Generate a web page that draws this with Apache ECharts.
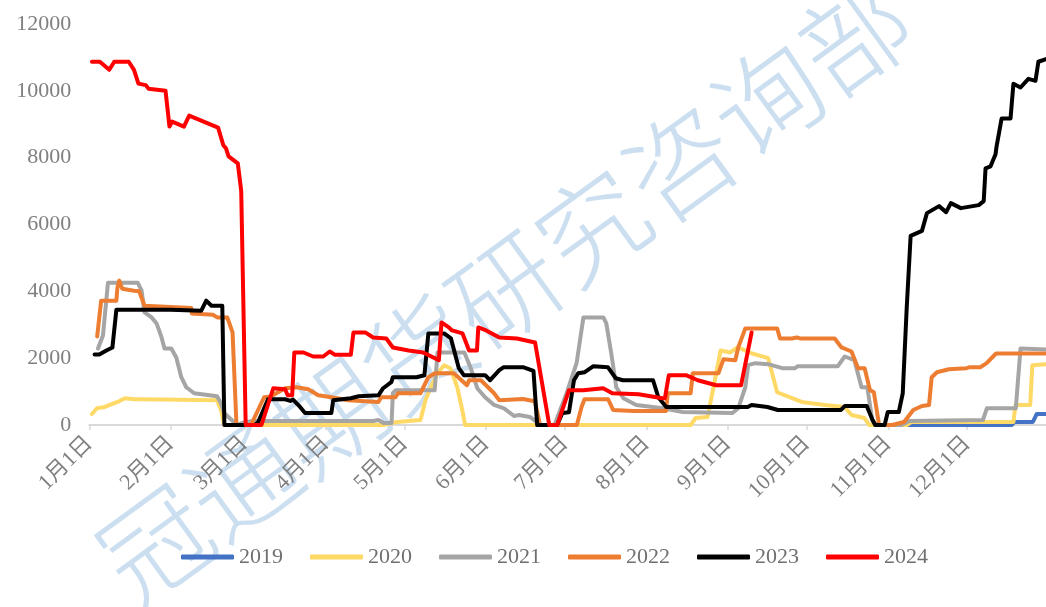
<!DOCTYPE html>
<html>
<head>
<meta charset="utf-8">
<script src="https://cdn.jsdelivr.net/npm/echarts@6/dist/echarts.min.js"></script>
<style>
html,body{margin:0;padding:0;background:#fff;}
#c{width:1046px;height:607px;}
</style>
</head>
<body>
<div id="c"></div>
<script>
// x positions are day-of-year indices (0 = 1月1日)
const monthStarts = [0, 31, 59, 90, 120, 151, 181, 212, 243, 273, 304, 334];
const monthLabels = ['1月1日','2月1日','3月1日','4月1日','5月1日','6月1日','7月1日','8月1日','9月1日','10月1日','11月1日','12月1日'];
const seriesNames = ['2019','2020','2021','2022','2023','2024'];

const data2019 = [[305,0],[351,0],[352,90],[359,90],[360.5,330],[364,330]];

const data2020 = [[1,330],[2.9,500],[5.9,540],[7.8,600],[10.8,690],[13.5,800],[17.3,770],[19.9,770],[48.6,740],[50.1,450],[51.3,0],
  [112,0],[116.2,80],[126,150],[127.9,740],[129.8,1100],[132.5,1550],[135,1790],[137.4,1700],[140,1130],[141.9,450],[143,0],
  [228.8,0],[230.7,210],[235.2,240],[237.5,1130],[240.2,2230],[243.9,2170],[246.6,2320],[249.6,2230],[252.2,2140],[258.3,2000],
  [261.7,980],[264.7,890],[271.1,690],[279.8,600],[287.4,540],[290,300],[294.9,210],[296.8,0],[311,0],[312.7,90],[351.6,90],
  [352.4,600],[358,600],[358.8,1790],[364,1820]];

const data2021 = [[3.3,2290],[5.2,2680],[7.1,4260],[18.4,4260],[19.9,4020],[21,3370],[23.7,3220],[25.6,3040],[27.5,2620],[28.6,2290],
  [31.2,2290],[33.1,2020],[35,1430],[36.9,1130],[39.9,950],[48.6,860],[50.1,650],[51.3,360],[55,90],[56.2,0],[58,60],[62,120],
  [108,120],[110,150],[112,60],[115,60],[115.5,950],[116.6,1040],[131.4,1040],[132.5,2170],[142.7,2170],[145,1730],[147.6,1100],
  [150.6,830],[154,600],[157.8,500],[161.6,270],[163.5,300],[167.6,240],[170.3,90],[171.4,0],[177,0],[181.6,950],[185.4,1850],
  [188,3220],[195.6,3220],[196.7,3040],[198.6,2140],[200.5,1130],[203.2,800],[208.1,600],[218.3,500],[225.8,390],[244.7,360],
  [246.9,500],[249.6,1130],[250.7,1790],[253.4,1850],[258.3,1820],[263.6,1700],[268.5,1700],[269.6,1760],[284.8,1760],[287.4,2050],
  [291.1,1940],[293.8,1130],[296,1130],[297.9,150],[299.4,0],[309,0],[312,120],[340,150],[341.5,500],[352.5,500],[354.3,2290],[364,2260]];

const data2022 = [[3,2650],[4.5,3720],[10.3,3720],[10.7,4110],[11.4,4320],[12.5,4080],[17,4020],[19,4000],[21,3570],[38.8,3500],
  [39,3340],[47,3300],[48.7,3220],[52.5,3220],[54.5,2770],[56,0],[61.5,0],[66.5,830],[69,850],[74.5,1100],[78.9,1130],[83.3,1070],
  [87.1,890],[92.1,830],[98.5,740],[110,690],[111,830],[116.5,830],[117.5,950],[126,950],[129,1430],[131.5,1550],[138.7,1550],
  [143.7,1190],[144.5,1340],[149,1340],[154,950],[156,740],[165,780],[169.5,710],[171.5,0],[185.5,0],[187.3,540],[188.4,770],
  [197.4,770],[199.3,450],[206.9,420],[219.4,420],[220.1,950],[228.8,950],[229.6,1550],[239.4,1550],[241.3,1970],[245.8,1940],
  [246.9,2320],[249.6,2890],[261.7,2890],[262.8,2590],[267.3,2590],[269.2,2620],[270.4,2590],[283.6,2590],[286.2,2320],[290,2200],
  [292.5,1700],[295,1700],[297,1050],[298.5,980],[300.5,0],[305.5,0],[310,90],[313.5,450],[316.8,570],[319.5,600],[320.5,1430],
  [322.5,1580],[327,1670],[333.8,1700],[335,1730],[339,1730],[341.4,1850],[345,2140],[364,2140]];

const data2023 = [[2,2110],[3.8,2110],[6.5,2230],[8.8,2320],[10.3,3450],[31,3450],[42.6,3420],[44.5,3720],[46.5,3570],[50.6,3570],
  [51.4,0],[63,0],[64.2,80],[68,770],[74.5,770],[76.5,720],[77.5,760],[80.2,540],[82.1,360],[92.1,360],[92.8,740],[99.5,800],
  [102.5,860],[110,890],[111.8,1100],[114.9,1280],[115.5,1430],[124.5,1430],[127.5,1490],[129,2740],[135,2740],[137.6,2590],
  [140.6,1700],[142.5,1490],[150.6,1490],[152.5,1340],[156,1640],[157.7,1730],[165,1730],[169,1620],[170.4,0],[178,0],[180,360],
  [182.5,380],[184.4,1340],[186,1550],[188.5,1580],[191.8,1760],[197.3,1730],[200.3,1400],[203,1340],[214.5,1340],[216.5,830],
  [219.5,540],[250.5,540],[252,600],[258,540],[262,450],[286,450],[287.5,570],[295.8,570],[298,150],[299,0],[302.6,0],[303.8,390],
  [308,390],[309.5,950],[311,3500],[312.5,5660],[316.8,5810],[318.7,6340],[323.3,6550],[326,6370],[327.8,6640],[331.6,6490],
  [338.4,6580],[340.3,6700],[341,7680],[342.9,7740],[344.8,8100],[345.2,8340],[347.1,9170],[350.5,9170],[351.6,10210],[354.3,10100],
  [357.3,10360],[360,10300],[361.1,10870],[364,10950]];

const data2024 = [[1,10870],[4,10870],[7.6,10630],[9.5,10870],[15,10870],[17,10630],[18.7,10215],[21.5,10170],[22.5,10065],[29,10000],
  [30.5,8930],[31.5,9080],[36,8930],[38,9260],[49,8900],[51,8370],[52,8280],[53,8040],[56.5,7830],[57.8,7000],[59.5,0],[65.5,0],
  [70,1100],[74.5,1070],[75.5,890],[77.2,890],[78,2170],[81.5,2170],[85.2,2050],[89,2050],[91.5,2200],[93.5,2100],[99.5,2100],
  [100.5,2770],[105,2770],[108,2620],[113,2590],[115.5,2320],[121.5,2230],[127,2170],[133,1940],[134,3070],[136.8,2920],[138,2830],
  [142,2740],[144.5,2230],[147.5,2230],[148,2920],[151,2830],[156,2620],[162.7,2590],[169.6,2470],[175,0],[178,0],[182.5,1040],
  [188,1040],[195.5,1100],[199,950],[209,920],[218,800],[219,800],[220.5,1490],[227,1490],[231.5,1340],[238.5,1190],[248,1190],[252,2770]];

const seriesData = [data2019, data2020, data2021, data2022, data2023, data2024];
const colors = ['#4472C4', '#FFD966', '#A5A5A5', '#ED7D31', '#000000', '#FF0000'];

const chart = echarts.init(document.getElementById('c'));
const labelFont = 'Liberation Serif, "Noto Sans CJK SC", serif';

chart.setOption({
  animation: false,
  backgroundColor: '#ffffff',
  color: colors,
  grid: { left: 89.3, top: 24, width: 963.5, height: 401, containLabel: false },
  xAxis: {
    type: 'value',
    min: 0,
    max: 364,
    splitLine: { show: false },
    axisLine: { show: true, lineStyle: { color: '#d9d9d9', width: 2 } },
    axisTick: { show: true, customValues: monthStarts, length: 5, lineStyle: { color: '#d9d9d9', width: 1.5 } },
    axisLabel: {
      customValues: monthStarts,
      rotate: 45,
      margin: 15,
      color: '#808080',
      fontSize: 22,
      fontFamily: labelFont,
      formatter: function (v) { const i = monthStarts.indexOf(v); return i >= 0 ? monthLabels[i] : ''; }
    }
  },
  yAxis: {
    type: 'value',
    min: 0,
    max: 12000,
    interval: 2000,
    splitLine: { show: false },
    axisLine: { show: false },
    axisTick: { show: false },
    axisLabel: { color: '#808080', fontSize: 22, fontFamily: labelFont, margin: 18, formatter: function (v) { return String(v); } }
  },
  legend: {
    data: seriesNames,
    left: 176,
    top: 541,
    icon: 'roundRect',
    itemWidth: 53,
    itemHeight: 5,
    itemGap: 27,
    textStyle: { color: '#707070', fontSize: 22, fontFamily: labelFont }
  },
  graphic: [{
    type: 'text',
    x: 505,
    y: 290,
    rotation: 36 * Math.PI / 180,
    z: 0,
    silent: true,
    style: {
      text: '冠通期货研究咨询部',
      fontSize: 108,
      fontWeight: 300,
      fontFamily: '"Noto Sans CJK SC"',
      fill: 'rgba(160,196,228,0.55)',
      textAlign: 'center',
      textVerticalAlign: 'middle'
    }
  }],
  series: seriesNames.map((n, i) => ({
    name: n,
    type: 'line',
    data: seriesData[i],
    showSymbol: false,
    symbol: 'none',
    z: 3 + i,
    lineStyle: { width: 4, color: colors[i], join: 'round', cap: 'round' },
    itemStyle: { color: colors[i] }
  }))
});
</script>
</body>
</html>
